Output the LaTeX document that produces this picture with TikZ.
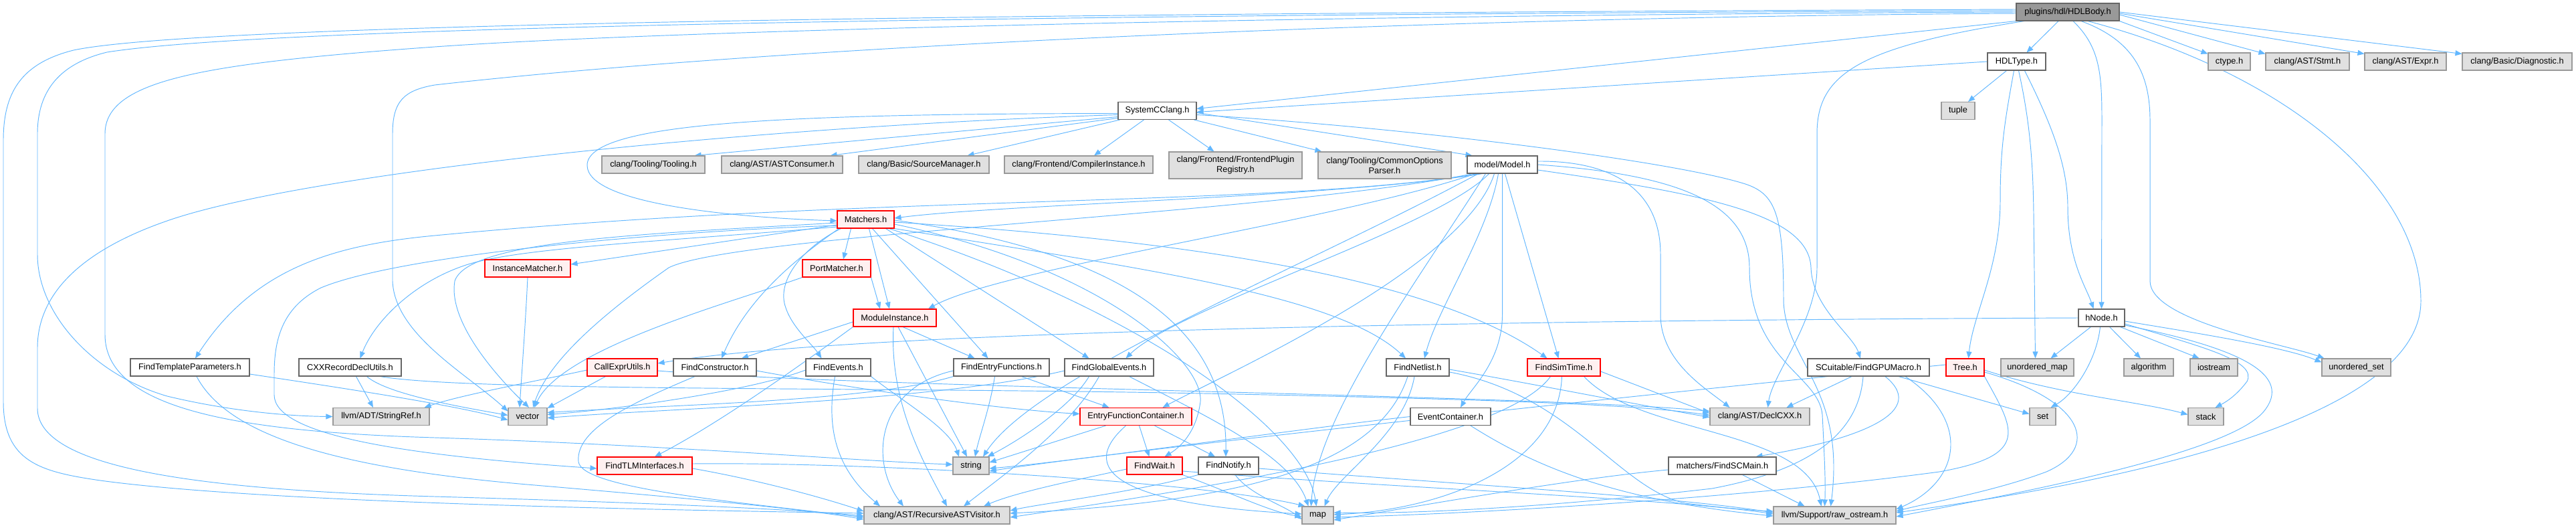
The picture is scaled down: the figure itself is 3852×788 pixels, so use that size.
\documentclass[tikz,border=0pt]{standalone}
\usepackage{fontspec}
\setmainfont{Liberation Sans}
\usetikzlibrary{arrows.meta}
\pgfdeclarelayer{bg}
\pgfdeclarelayer{edges}
\pgfsetlayers{bg,edges,main}
\definecolor{edgec}{HTML}{63B8FF}
\definecolor{bdark}{HTML}{666666}
\definecolor{bgray}{HTML}{999999}
\definecolor{fgray}{HTML}{E0E0E0}
\definecolor{bred}{HTML}{FF0000}
\definecolor{fred}{HTML}{FFF0F0}
\definecolor{froot}{HTML}{999999}
\tikzset{
  nb/.style={draw, line width=1.1pt, minimum height=26pt, inner sep=0pt, text=black,
    font=\fontsize{12.8pt}{15pt}\selectfont, align=center},
  wn/.style={nb, draw=bdark, fill=white},
  gn/.style={nb, draw=bgray, fill=fgray},
  rn/.style={nb, draw=bred, fill=fred},
  rootn/.style={nb, draw=bdark, fill=froot},
  e/.style={draw=edgec, line width=0.95pt, -{Triangle[length=10pt,width=8pt]}}
}
\begin{document}
\begin{tikzpicture}[x=1pt,y=-1pt]
\begin{pgfonlayer}{bg}
\fill[white] (0,0) rectangle (3852,788);
\end{pgfonlayer}
\useasboundingbox (0,0) rectangle (3852,788);

% ---------- nodes ----------
\node[rootn, minimum width=154pt] (HB) at (3092,18) {plugins/hdl/HDLBody.h};
\node[wn, minimum width=87pt] (HT) at (3015.5,92) {HDLType.h};
\node[gn, minimum width=63pt] (ctype) at (3333.5,92) {ctype.h};
\node[gn, minimum width=125pt] (Stmt) at (3450.5,92) {clang/AST/Stmt.h};
\node[gn, minimum width=122pt] (Expr) at (3597,92) {clang/AST/Expr.h};
\node[gn, minimum width=164pt] (Diag) at (3764,92) {clang/Basic/Diagnostic.h};
\node[wn, minimum width=117pt] (SCC) at (1730.5,165.5) {SystemCClang.h};
\node[gn, minimum width=50pt] (tuple) at (2928,165.5) {tuple};
\node[gn, minimum width=154pt] (Tooling) at (977,246) {clang/Tooling/Tooling.h};
\node[gn, minimum width=181pt] (ASTC) at (1169.5,246) {clang/AST/ASTConsumer.h};
\node[gn, minimum width=195pt] (SrcM) at (1381.5,246) {clang/Basic/SourceManager.h};
\node[gn, minimum width=222pt] (CI) at (1613,246) {clang/Frontend/CompilerInstance.h};
\node[gn, minimum width=199pt, minimum height=40pt] (FPR) at (1847.5,247) {clang/Frontend/FrontendPlugin\\Registry.h};
\node[gn, minimum width=199pt, minimum height=40pt] (COP) at (2070.5,247) {clang/Tooling/CommonOptions\\Parser.h};
\node[wn, minimum width=105pt] (M) at (2246.5,246) {model/Model.h};
\node[rn, minimum width=85pt] (Mt) at (1294.5,328) {Matchers.h};
\node[rn, minimum width=128pt] (IM) at (789,401) {InstanceMatcher.h};
\node[rn, minimum width=102pt] (PM) at (1251,401) {PortMatcher.h};
\node[wn, minimum width=69pt] (hNode) at (3142.5,475) {hNode.h};
\node[rn, minimum width=124pt] (MI) at (1338,475) {ModuleInstance.h};
\node[wn, minimum width=178pt] (FTP) at (284,549) {FindTemplateParameters.h};
\node[wn, minimum width=153pt] (CXX) at (523.5,549) {CXXRecordDeclUtils.h};
\node[rn, minimum width=105pt] (CEU) at (930.5,549) {CallExprUtils.h};
\node[wn, minimum width=124pt] (FC) at (1069,549) {FindConstructor.h};
\node[wn, minimum width=97pt] (FE) at (1253.5,549) {FindEvents.h};
\node[wn, minimum width=143pt] (FEF) at (1497.5,549) {FindEntryFunctions.h};
\node[wn, minimum width=133pt] (FGE) at (1658.5,549) {FindGlobalEvents.h};
\node[wn, minimum width=94pt] (FN) at (2120,549) {FindNetlist.h};
\node[rn, minimum width=109pt] (FST) at (2338.5,549) {FindSimTime.h};
\node[wn, minimum width=182pt] (GPU) at (2794,549) {SCuitable/FindGPUMacro.h};
\node[rn, minimum width=57pt] (Tree) at (2938.5,549) {Tree.h};
\node[gn, minimum width=109pt] (umap) at (3046.5,549) {unordered\_map};
\node[gn, minimum width=74pt] (algo) at (3213,549) {algorithm};
\node[gn, minimum width=71pt] (ios) at (3310.5,549) {iostream};
\node[gn, minimum width=103pt] (uset) at (3523.5,549) {unordered\_set};
\node[gn, minimum width=144pt] (SR) at (570,622.5) {llvm/ADT/StringRef.h};
\node[gn, minimum width=58pt] (vec) at (789,622.5) {vector};
\node[rn, minimum width=167pt] (EFC) at (1698.5,622.5) {EntryFunctionContainer.h};
\node[wn, minimum width=120pt] (EC) at (2169,622.5) {EventContainer.h};
\node[gn, minimum width=149pt] (DC) at (2631.5,622.5) {clang/AST/DeclCXX.h};
\node[gn, minimum width=39pt] (set) at (3054.5,622.5) {set};
\node[gn, minimum width=53pt] (stack) at (3298.5,622.5) {stack};
\node[rn, minimum width=142pt] (FTLM) at (964,696) {FindTLMInterfaces.h};
\node[gn, minimum width=54pt] (str) at (1452,696) {string};
\node[rn, minimum width=83pt] (FW) at (1726.5,696) {FindWait.h};
\node[wn, minimum width=90pt] (FNo) at (1837,696) {FindNotify.h};
\node[wn, minimum width=161pt] (SCM) at (2575.5,696) {matchers/FindSCMain.h};
\node[gn, minimum width=218pt] (RAV) at (1401,770) {clang/AST/RecursiveASTVisitor.h};
\node[gn, minimum width=47pt] (map) at (1970.5,770) {map};
\node[gn, minimum width=183pt] (raw) at (2743.5,770) {llvm/Support/raw\_ostream.h};

% ---------- edges ----------
\begin{pgfonlayer}{edges}
% HDLBody
\draw[e] (HB.south west) -- ([yshift=3pt]SCC.east);
\draw[e] ([xshift=-14pt]HB.south) -- ([xshift=15pt]HT.north);
\draw[e] (HB.south east) -- ([yshift=-2pt]ctype.north west);
\draw[e] ([yshift=-4pt]HB.east) -- ([yshift=-2pt]Stmt.north west);
\draw[e] ([yshift=-2pt]HB.east) -- ([yshift=-2pt]Expr.north west);
\draw[e] (HB.east) -- ([yshift=-2pt]Diag.north west);
\draw[e] ([xshift=8pt]HB.south) .. controls (3140,70) and (3143,110) .. (3143,180) -- (hNode.north);
\draw[e] ([xshift=20pt]HB.south) .. controls (3190,60) and (3215,110) .. (3215,180) -- (3215,420) .. controls (3215,480) and (3420,515) .. ([xshift=4pt]uset.north west);
\draw[e] ([xshift=30pt]HB.south) .. controls (3420,110) and (3620,280) .. (3620,450) .. controls (3620,640) and (3100,730) .. ([yshift=4pt]raw.east);
\draw[e] ([xshift=-65pt]HB.south) .. controls (2780,70) and (2717,110) .. (2717,200) -- (2717,400) .. controls (2717,480) and (2650,560) .. ([xshift=12pt]DC.north);
\draw[e] ([yshift=4pt]HB.west) .. controls (1500,20) and (300,35) .. (110,75) .. controls (30,95) and (5,140) .. (5,210) -- (5,600) .. controls (5,690) and (60,705) .. (150,718) .. controls (400,752) and (1000,762) .. ([yshift=3pt]RAV.west);
\draw[e] ([yshift=2pt]HB.west) .. controls (1500,22) and (400,40) .. (160,78) .. controls (90,95) and (56,135) .. (56,200) -- (56,380) .. controls (56,470) and (140,560) .. (250,592) .. controls (350,616) and (440,622) .. (SR.west);
\draw[e] (HB.west) .. controls (2000,22) and (1000,45) .. (650,70) .. controls (300,95) and (157,120) .. (157,200) -- (157,500) .. controls (157,610) and (350,645) .. (650,654) .. controls (1000,665) and (1300,690) .. ([yshift=2pt]str.west);
\draw[e] ([yshift=-2pt]HB.west) .. controls (2200,25) and (1200,65) .. (650,127) .. controls (605,135) and (587,150) .. (587,200) -- (587,420) .. controls (590,500) and (700,560) .. ([yshift=8pt]vec.west);
% HDLType
\draw[e] (HT.west) -- ([yshift=-2pt]SCC.east);
\draw[e] ([xshift=-15pt]HT.south) -- ([xshift=15pt]tuple.north);
\draw[e] ([xshift=-4pt]HT.south) .. controls (2998,180) and (2991,220) .. (2991,300) .. controls (2991,400) and (2950,470) .. ([xshift=5pt]Tree.north);
\draw[e] ([xshift=3pt]HT.south) .. controls (3035,180) and (3040,240) .. (3041,320) -- ([xshift=-3pt]umap.north);
\draw[e] ([xshift=12pt]HT.south) .. controls (3070,190) and (3092,250) .. (3092,310) .. controls (3092,390) and (3120,430) .. ([xshift=-12pt]hNode.north);
% SystemCClang
\draw[e] ([yshift=-9pt]SCC.west) -- ([xshift=-16pt]Tooling.north east);
\draw[e] ([yshift=-11pt]SCC.west) -- ([xshift=-19pt]ASTC.north east);
\draw[e] ([xshift=3pt]SCC.south west) -- ([xshift=-33pt]SrcM.north east);
\draw[e] ([xshift=-20pt]SCC.south) -- ([xshift=23pt]CI.north);
\draw[e] ([xshift=17pt]SCC.south) -- ([xshift=-32pt]FPR.north);
\draw[e] ([xshift=-4pt]SCC.south east) -- ([xshift=6pt]COP.north west);
\draw[e] ([yshift=-3pt]SCC.east) -- ([xshift=8pt]M.north west);
\draw[e] ([yshift=-4pt]SCC.west) .. controls (1150,170) and (878,185) .. (878,247) .. controls (878,305) and (1100,325) .. ([yshift=-2pt]Mt.west);
\draw[e] ([yshift=-6pt]SCC.west) .. controls (1100,190) and (450,260) .. (250,330) .. controls (120,375) and (56,440) .. (56,520) -- (56,610) .. controls (56,700) and (300,732) .. (650,742) .. controls (1000,752) and (1200,762) .. ([yshift=-1pt]RAV.west);
\draw[e] ([yshift=-6pt]SCC.east) .. controls (2100,190) and (2500,240) .. (2610,275) .. controls (2655,290) and (2667,320) .. (2667,450) .. controls (2670,540) and (2760,580) .. ([xshift=-6pt]raw.north);
% Model
\draw[e] ([xshift=-30pt]M.south) .. controls (2000,295) and (1500,305) .. ([yshift=2pt]Mt.east);
\draw[e] ([xshift=-34pt]M.south) .. controls (1900,310) and (1300,290) .. (650,352) .. controls (500,366) and (380,400) .. ([xshift=8pt]FTP.north);
\draw[e] ([xshift=-44pt]M.south) .. controls (1900,320) and (1100,350) .. (1000,400) .. controls (900,470) and (820,540) .. ([xshift=8pt]vec.north);
\draw[e] ([xshift=-40pt]M.south) .. controls (2000,330) and (1500,400) .. ([xshift=50pt]MI.north);
\draw[e] ([xshift=-20pt]M.south) .. controls (2150,340) and (1760,460) .. ([xshift=25pt]FGE.north);
\draw[e] ([xshift=-12pt]M.south) .. controls (2190,400) and (1830,560) .. ([xshift=40pt]EFC.north);
\draw[e] ([xshift=-6pt]M.south) .. controls (2225,350) and (2150,460) .. ([xshift=10pt]FN.north);
\draw[e] (M.south) -- (2246.5,470) .. controls (2246.5,540) and (2200,580) .. ([xshift=15pt]EC.north);
\draw[e] ([xshift=4pt]M.south) -- ([xshift=-8pt]FST.north);
\draw[e] ([yshift=5pt]M.east) .. controls (2420,240) and (2483,290) .. (2483,380) -- (2483,470) .. controls (2483,540) and (2550,580) .. ([xshift=-45pt]DC.north);
\draw[e] (M.east) .. controls (2500,260) and (2616,300) .. (2616,400) .. controls (2616,540) and (2720,560) .. (2725,620) .. controls (2728,680) and (2730,720) .. ([xshift=-15pt]raw.north);
\draw[e] ([yshift=-8pt]M.east) .. controls (2550,290) and (2705,320) .. (2708,400) .. controls (2710,460) and (2770,500) .. ([xshift=-12pt]GPU.north);
\draw[e] ([xshift=-25pt]M.south) .. controls (2120,420) and (1970,620) .. ([xshift=-10pt]map.north);
\draw[e] ([xshift=-36pt]M.south) .. controls (1950,400) and (1550,560) .. ([xshift=18pt]str.north);
% Matchers
\draw[e] ([yshift=-8pt]Mt.west) -- ([yshift=6pt]IM.east);
\draw[e] ([xshift=-22pt]Mt.south) -- ([xshift=10pt]PM.north);
\draw[e] ([xshift=5pt]Mt.south) -- ([xshift=-8pt]MI.north);
\draw[e] ([yshift=-11pt]Mt.west) .. controls (1000,360) and (780,370) .. (700,395) .. controls (620,420) and (560,480) .. ([xshift=15pt]CXX.north);
\draw[e] ([xshift=3pt]Mt.south west) .. controls (1200,380) and (1120,440) .. ([xshift=10pt]FC.north);
\draw[e] ([xshift=6pt]Mt.south west) .. controls (1200,370) and (1160,420) .. (1175,460) .. controls (1185,490) and (1215,515) .. ([xshift=-25pt]FE.north);
\draw[e] ([xshift=10pt]Mt.south) -- ([xshift=-20pt]FEF.north);
\draw[e] ([xshift=30pt]Mt.south) -- ([xshift=-30pt]FGE.north);
\draw[e] (Mt.south east) .. controls (1700,400) and (2000,440) .. ([xshift=-18pt]FN.north);
\draw[e] ([yshift=-4pt]Mt.east) .. controls (1800,360) and (2150,420) .. ([xshift=-25pt]FST.north);
\draw[e] ([yshift=-7pt]Mt.east) .. controls (1650,400) and (1800,540) .. (1795,600) .. controls (1790,640) and (1770,665) .. ([xshift=15pt]FW.north);
\draw[e] ([yshift=-1pt]Mt.east) .. controls (1700,380) and (1835,500) .. ([xshift=-4pt]FNo.north);
\draw[e] ([yshift=-9pt]Mt.west) .. controls (1000,345) and (600,380) .. (480,430) .. controls (420,460) and (410,510) .. (410,560) -- (410,590) .. controls (410,650) and (600,680) .. ([yshift=-4pt]FTLM.west);
\draw[e] ([yshift=-5pt]Mt.west) .. controls (950,350) and (700,360) .. (680,420) .. controls (670,480) and (740,560) .. ([xshift=2pt]vec.north);
\draw[e] ([xshift=35pt]Mt.south) .. controls (1700,460) and (1950,640) .. ([xshift=-2pt]map.north);
% ModuleInstance / PortMatcher / InstanceMatcher
\draw[e] ([xshift=12pt]MI.south) -- ([xshift=-40pt]FEF.north);
\draw[e] ([xshift=5pt]MI.south) -- ([xshift=-6pt]str.north);
\draw[e] ([xshift=-2pt]MI.south) .. controls (1330,600) and (1380,690) .. ([xshift=15pt]RAV.north);
\draw[e] ([yshift=-6pt]MI.west) -- ([xshift=40pt]FC.north);
\draw[e] (MI.south west) .. controls (1150,580) and (1060,640) .. ([xshift=15pt]FTLM.north);
\draw[e] (PM.south east) -- ([xshift=-22pt]MI.north);
\draw[e] (PM.south west) .. controls (1100,450) and (840,520) .. ([xshift=10pt]vec.north);
\draw[e] (IM.south) .. controls (786,480) and (780,560) .. ([xshift=-12pt]vec.north);
% CallExprUtils, FindConstructor, FindEvents
\draw[e] ([yshift=-4pt]CEU.west) .. controls (800,570) and (690,590) .. ([xshift=-8pt]SR.north east);
\draw[e] ([xshift=-25pt]CEU.south) -- ([yshift=-1pt]vec.north east);
\draw[e] ([yshift=-5pt]CEU.east) .. controls (1300,580) and (2300,590) .. ([yshift=8pt]DC.west);
\draw[e] ([xshift=-30pt]FC.south) .. controls (950,600) and (860,640) .. (865,690) .. controls (870,730) and (1100,750) .. ([yshift=-3pt]RAV.west);
\draw[e] ([yshift=-5pt]FC.east) .. controls (1300,585) and (1500,612) .. ([yshift=4pt]EFC.west);
\draw[e] ([yshift=-4pt]FE.west) .. controls (1120,585) and (920,612) .. ([yshift=3pt]vec.east);
\draw[e] ([xshift=-5pt]FE.south) .. controls (1235,640) and (1250,700) .. ([xshift=-85pt]RAV.north);
\draw[e] (FE.south east) .. controls (1350,600) and (1420,640) .. ([xshift=-18pt]str.north);
% FindTemplateParameters, CXXRecordDeclUtils
\draw[e] ([yshift=-10pt]FTP.east) .. controls (500,578) and (680,605) .. ([yshift=-5pt]vec.west);
\draw[e] ([xshift=10pt]FTP.south) .. controls (340,650) and (500,700) .. (800,725) .. controls (1000,742) and (1200,760) .. ([yshift=-6pt]RAV.west);
\draw[e] ([xshift=9pt]CXX.south) -- ([xshift=-12pt]SR.north);
\draw[e] ([xshift=25pt]CXX.south) .. controls (580,590) and (700,610) .. ([yshift=2pt]vec.west);
\draw[e] ([xshift=45pt]CXX.south) .. controls (700,585) and (1300,578) .. (1800,588) .. controls (2250,597) and (2450,605) .. ([yshift=2pt]DC.west);
% FindEntryFunctions, FindGlobalEvents
\draw[e] ([xshift=-10pt]FEF.south) .. controls (1480,610) and (1465,650) .. ([xshift=6pt]str.north);
\draw[e] ([yshift=-5pt]FEF.west) .. controls (1310,580) and (1300,690) .. ([xshift=-50pt]RAV.north);
\draw[e] ([xshift=30pt]FEF.south) -- ([xshift=-40pt]EFC.north);
\draw[e] (FEF.south west) .. controls (1300,600) and (1000,605) .. ([yshift=6pt]vec.east);
\draw[e] ([xshift=-30pt]FGE.south) .. controls (1600,610) and (1520,660) .. ([xshift=-3pt]str.north east);
\draw[e] ([xshift=-15pt]FGE.south) .. controls (1600,640) and (1500,710) .. ([xshift=40pt]RAV.north);
\draw[e] ([yshift=-5pt]FGE.west) .. controls (1400,600) and (1000,610) .. ([yshift=-2pt]vec.east);
\draw[e] ([xshift=30pt]FGE.south) .. controls (1800,620) and (1930,680) .. ([xshift=-14pt]map.north);
% EntryFunctionContainer
\draw[e] ([xshift=5pt]EFC.south) -- ([xshift=-8pt]FW.north);
\draw[e] ([xshift=28pt]EFC.south) -- ([xshift=-20pt]FNo.north);
\draw[e] ([xshift=-45pt]EFC.south) -- ([yshift=5pt]str.east);
\draw[e] ([xshift=-15pt]EFC.south) .. controls (1600,710) and (1700,755) .. ([yshift=2pt]map.west);
% FindWait, FindNotify
\draw[e] ([yshift=-5pt]FW.west) .. controls (1620,715) and (1520,735) .. ([xshift=70pt]RAV.north);
\draw[e] (FW.south east) .. controls (1850,740) and (1900,765) .. ([yshift=-2pt]map.west);
\draw[e] ([yshift=-8pt]FW.east) .. controls (2100,730) and (2500,745) .. ([yshift=2pt]raw.west);
\draw[e] (FNo.south west) .. controls (1700,735) and (1560,752) .. ([yshift=7pt]RAV.east);
\draw[e] ([xshift=10pt]FNo.south) .. controls (1870,740) and (1920,755) .. ([yshift=-6pt]map.west);
\draw[e] ([yshift=-4pt]FNo.east) .. controls (2200,725) and (2500,742) .. ([yshift=4pt]raw.west);
% FindTLMInterfaces
\draw[e] ([yshift=-4pt]FTLM.east) .. controls (1150,720) and (1250,750) .. ([yshift=6pt]RAV.west);
\draw[e] ([yshift=3pt]FTLM.east) .. controls (1300,690) and (1800,720) .. ([xshift=-19pt]map.north);
% FindNetlist
\draw[e] ([xshift=-5pt]FN.south) .. controls (2100,650) and (2000,710) .. ([xshift=10pt]map.north);
\draw[e] ([xshift=-15pt]FN.south) .. controls (2060,700) and (1850,750) .. ([yshift=3pt]RAV.east);
\draw[e] ([yshift=-3pt]FN.east) .. controls (2300,575) and (2450,605) .. ([yshift=-1pt]DC.west);
\draw[e] ([yshift=-7pt]FN.east) .. controls (2350,590) and (2420,730) .. (2520,752) .. controls (2570,758) and (2610,762) .. ([yshift=6pt]raw.west);
% FindSimTime
\draw[e] ([yshift=-6pt]FST.east) -- ([yshift=5pt]DC.west);
\draw[e] ([xshift=30pt]FST.south) .. controls (2450,650) and (2700,640) .. ([xshift=-20pt]raw.north);
\draw[e] ([xshift=-3pt]FST.south) .. controls (2330,700) and (2150,762) .. ([yshift=1pt]map.east);
\draw[e] ([xshift=-20pt]FST.south) .. controls (2250,660) and (1800,730) .. ([yshift=-3pt]RAV.east);
% EventContainer
\draw[e] (EC.west) .. controls (1950,640) and (1600,690) .. ([yshift=-4pt]str.east);
\draw[e] ([xshift=30pt]EC.south) .. controls (2300,700) and (2420,748) .. ([yshift=-1pt]raw.west);
% FindSCMain
\draw[e] ([xshift=30pt]SCM.south) -- ([xshift=-45pt]raw.north);
\draw[e] ([yshift=-6pt]SCM.west) .. controls (2350,715) and (2100,760) .. ([yshift=-7pt]map.east);
% FindGPUMacro
\draw[e] ([xshift=-25pt]GPU.south) -- ([xshift=40pt]DC.north);
\draw[e] ([xshift=45pt]GPU.south) -- ([yshift=4pt]set.west);
\draw[e] ([xshift=25pt]GPU.south) .. controls (2890,620) and (2760,660) .. ([xshift=50pt]SCM.north);
\draw[e] ([xshift=55pt]GPU.south) .. controls (2950,630) and (2930,720) .. ([yshift=9pt]raw.east);
\draw[e] ([xshift=-8pt]GPU.south) .. controls (2780,640) and (2720,700) .. (2560,730) .. controls (2300,760) and (2100,768) .. ([yshift=4pt]map.east);
% Tree
\draw[e] ([yshift=-4pt]Tree.east) .. controls (3080,590) and (3200,600) .. ([yshift=3pt]stack.west);
\draw[e] ([yshift=-7pt]Tree.east) .. controls (3120,600) and (3140,670) .. (3060,705) .. controls (2980,735) and (2880,752) .. ([yshift=6pt]raw.east);
\draw[e] (Tree.south east) .. controls (3010,640) and (3040,680) .. (2900,705) .. controls (2600,745) and (2200,768) .. ([yshift=-3pt]map.east);
\draw[e] ([yshift=4pt]Tree.west) .. controls (2500,585) and (1700,670) .. ([yshift=-8pt]str.east);
% hNode
\draw[e] (hNode.west) .. controls (2400,478) and (1300,490) .. ([yshift=6pt]CEU.east);
\draw[e] ([xshift=-16pt]hNode.south) -- ([xshift=20pt]umap.north);
\draw[e] ([xshift=-2pt]hNode.south) .. controls (3135,540) and (3100,590) .. ([xshift=12pt]set.north);
\draw[e] ([xshift=12pt]hNode.south) -- ([xshift=-12pt]algo.north);
\draw[e] ([xshift=28pt]hNode.south) -- ([xshift=-22pt]ios.north);
\draw[e] ([yshift=-9pt]hNode.east) .. controls (3300,520) and (3375,540) .. (3360,570) .. controls (3345,590) and (3330,600) .. ([xshift=14pt]stack.north);
\draw[e] ([yshift=-5pt]hNode.east) .. controls (3300,500) and (3420,520) .. ([yshift=-6pt]uset.north west);
\draw[e] ([yshift=-11pt]hNode.east) .. controls (3350,520) and (3430,560) .. (3385,615) .. controls (3330,680) and (3000,740) .. ([yshift=-2pt]raw.east);
\end{pgfonlayer}
\end{tikzpicture}
\end{document}
